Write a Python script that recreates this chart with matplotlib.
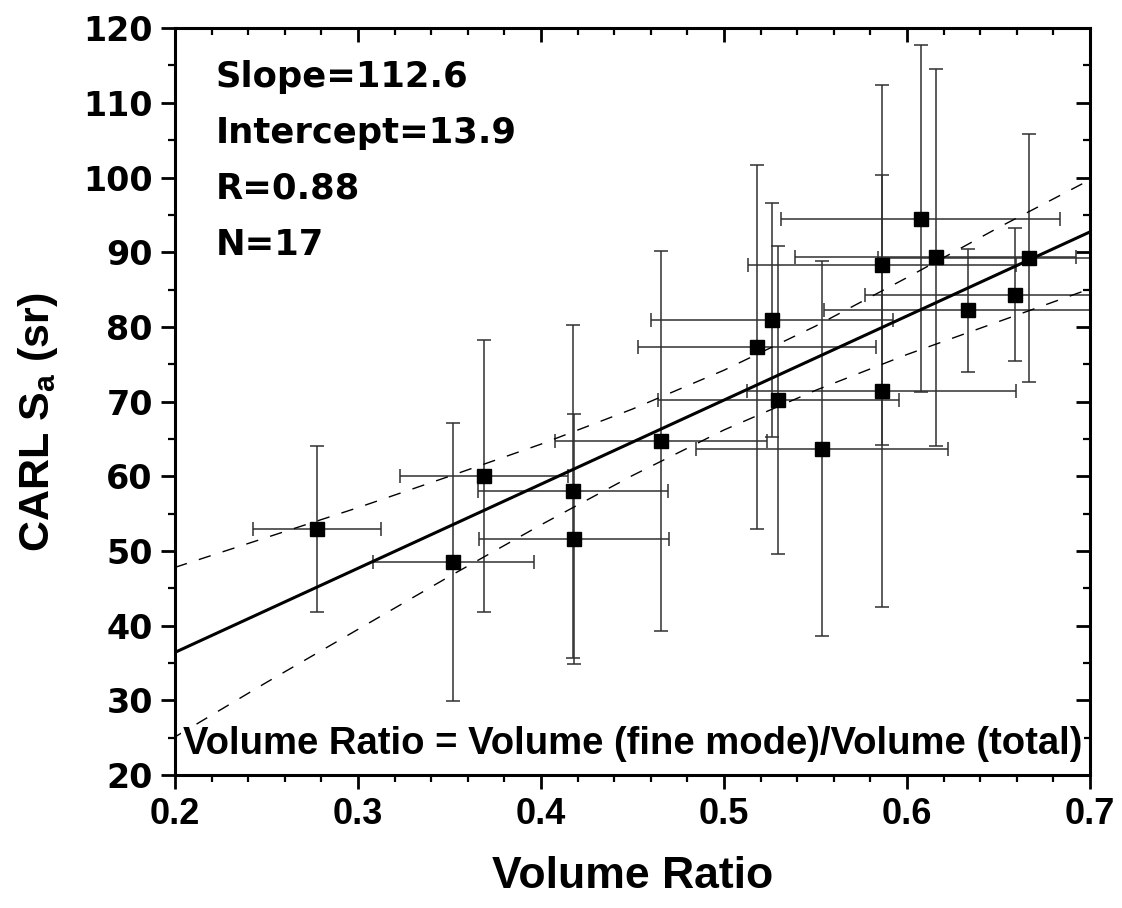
import numpy as np
import matplotlib
matplotlib.use('Agg')
import matplotlib.pyplot as plt
from matplotlib.ticker import MultipleLocator
from matplotlib import lines as mlines

plt.rcParams['font.family'] = ['Liberation Sans', 'DejaVu Sans']
plt.rcParams['font.weight'] = 'bold'

# ===== data =====
vol_ratio = [0.2774, 0.3521, 0.3687, 0.4173, 0.4180, 0.4656, 0.5179, 0.5262, 0.5297,
             0.5536, 0.5863, 0.5862, 0.6074, 0.6156, 0.6669, 0.6590, 0.6335]
carl_sa = [52.9, 48.5, 60.0, 58.0, 51.6, 64.7, 77.3, 80.9, 70.2,
           63.7, 88.3, 71.4, 94.5, 89.3, 89.2, 84.3, 82.2]
vol_err = [0.035, 0.044, 0.046, 0.052, 0.052, 0.058, 0.065, 0.066, 0.066,
           0.069, 0.073, 0.0735, 0.076, 0.077, 0.083, 0.082, 0.079]
sa_err = [11.1, 18.6, 18.2, 22.3, 16.8, 25.4, 24.4, 15.7, 20.6,
          25.1, 24.1, 28.9, 23.2, 25.2, 16.6, 8.9, 8.2]

slope = 112.6
intercept = 13.9

# confidence band of the fit
band_x = [0.2, 0.25, 0.3, 0.35, 0.4, 0.45, 0.5, 0.55, 0.6, 0.65, 0.7]
band_upper = [47.8, 51.8, 55.8, 60.0, 64.3, 69.0, 74.2, 80.1, 86.6, 93.3, 99.7]
band_lower = [25.1, 32.4, 39.5, 46.6, 53.5, 60.1, 66.2, 71.5, 76.3, 80.7, 85.1]

stats_lines = ['Slope=112.6', 'Intercept=13.9', 'R=0.88', 'N=17']
x_ticks = [0.2, 0.3, 0.4, 0.5, 0.6, 0.7]
x_ticklabels = ['0.2', '0.3', '0.4', '0.5', '0.6', '0.7']

# ===== plot =====
fig = plt.figure(figsize=(11.22, 9.08), dpi=100)
ax = fig.add_axes([0.156, 0.1465, 0.8155, 0.8225])

ax.errorbar(vol_ratio, carl_sa, xerr=vol_err, yerr=sa_err, fmt='none',
            ecolor='#303030', elinewidth=1.1, capsize=5, capthick=1.1, zorder=2)
ax.plot(vol_ratio, carl_sa, 's', color='black', markersize=9.5, zorder=4)

fit_x = np.array([0.2, 0.7])
ax.plot(fit_x, intercept + slope * fit_x, '-', color='black', lw=2.2, zorder=3)
ax.plot(band_x, band_upper, '--', color='black', lw=1.0, dashes=(9, 9), zorder=3)
ax.plot(band_x, band_lower, '--', color='black', lw=1.0, dashes=(9, 9), zorder=3)

ax.set_xlim(0.2, 0.7)
ax.set_ylim(20, 120)
ax.xaxis.set_minor_locator(MultipleLocator(0.02))
ax.yaxis.set_major_locator(MultipleLocator(10))
ax.yaxis.set_minor_locator(MultipleLocator(5))
ax.set_xticks(x_ticks)
ax.set_xticklabels(x_ticklabels)

for s in ax.spines.values():
    s.set_linewidth(2.2)
ax.tick_params(which='major', direction='out', length=10, width=2.0, pad=6)
ax.tick_params(which='minor', direction='out', length=5, width=1.6)
ax.tick_params(which='both', top=True, right=True, labeltop=False, labelright=False)
# top/right ticks point inwards
for t in ax.xaxis.get_major_ticks() + ax.xaxis.get_minor_ticks():
    t.tick2line.set_marker(mlines.TICKDOWN)
for t in ax.yaxis.get_major_ticks() + ax.yaxis.get_minor_ticks():
    t.tick2line.set_marker(mlines.TICKLEFT)
for lab in ax.get_xticklabels():
    lab.set_fontsize(26)
    lab.set_fontweight('bold')
for lab in ax.get_yticklabels():
    lab.set_fontsize(24)
    lab.set_fontweight('bold')
    lab.set_family('DejaVu Sans')

ax.set_xlabel('Volume Ratio', fontsize=32, fontweight='bold', labelpad=17)
fig.text(0.034, 0.535, r'CARL S$_\mathregular{a}$ (sr)', rotation=90,
         fontsize=31, fontweight='bold', ha='center', va='center',
         family=['Liberation Sans Narrow', 'DejaVu Sans Condensed', 'Liberation Sans'])

for i, line in enumerate(stats_lines):
    ax.text(0.044, 0.958 - i * 0.075, line, transform=ax.transAxes,
            fontsize=25.5, fontweight='bold', va='top', ha='left',
            family='DejaVu Sans')

ax.text(0.5, 0.028, 'Volume Ratio = Volume (fine mode)/Volume (total)',
        transform=ax.transAxes, fontsize=27.5, fontweight='bold', ha='center',
        va='baseline', zorder=5,
        bbox=dict(facecolor='white', edgecolor='none', pad=1))

fig.savefig('out.png', dpi=100)
